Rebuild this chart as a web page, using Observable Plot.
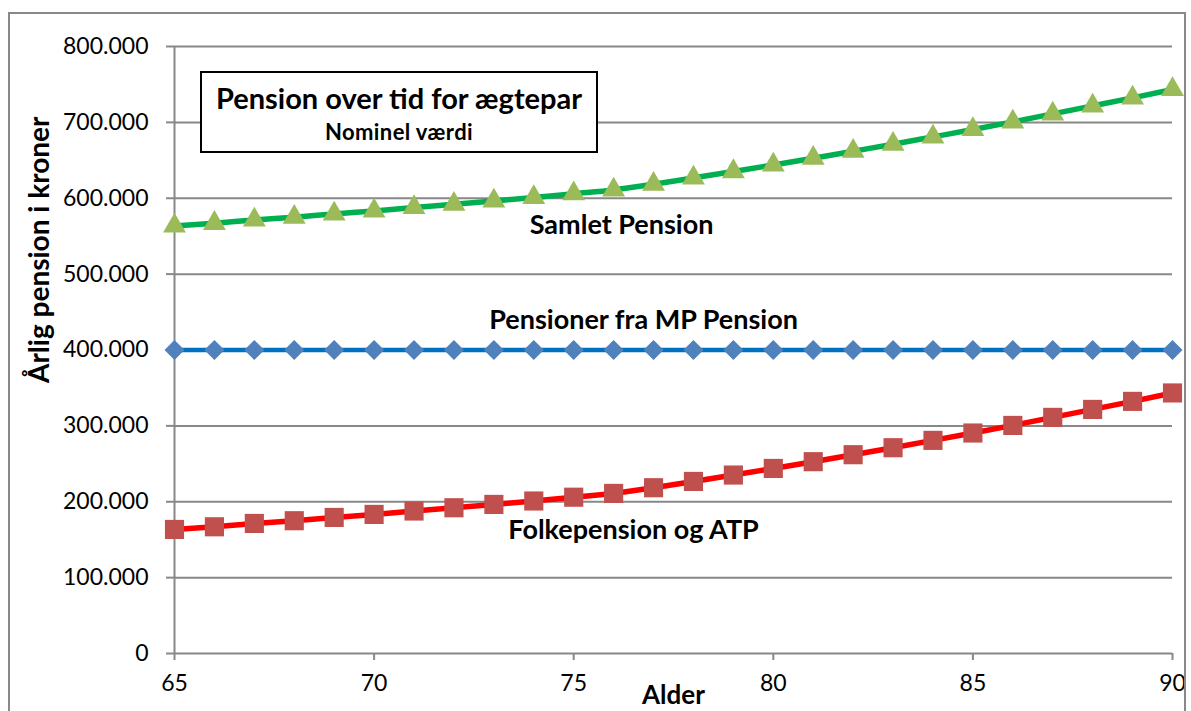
<!DOCTYPE html>
<html>
<head>
<meta charset="utf-8">
<script src="https://cdn.jsdelivr.net/npm/d3@7"></script>
<script src="https://cdn.jsdelivr.net/npm/@observablehq/plot@0.6"></script>
<style>
  html, body { margin: 0; padding: 0; background: white; }
  #wrap { position: relative; width: 1191px; height: 711px; overflow: hidden; }
  #border { position: absolute; left: 8px; top: 12px; width: 1178px; height: 720px; border: 2px solid #888; box-sizing: border-box; pointer-events: none; }
  #titlebox { position: absolute; left: 200px; top: 71px; width: 398px; height: 82px; box-sizing: border-box; border: 2px solid #000; background: white; text-align: center; font-family: Lato, "Open Sans", sans-serif; font-weight: bold; color: #000; }
  #titlebox .t1 { font-size: 29px; line-height: 30px; margin-top: 10px; white-space: nowrap; }
  #titlebox .t2 { font-size: 22px; line-height: 24px; margin-top: 7px; white-space: nowrap; letter-spacing: 0.4px; }
  svg g[aria-label="x-axis tick"] path, svg g[aria-label="y-axis tick"] path { stroke: #888; stroke-width: 2px; }
</style>
</head>
<body>
<div id="wrap">
  <div id="chart"></div>
  <div id="titlebox"><div class="t1">Pension over tid for ægtepar</div><div class="t2">Nominel værdi</div></div>
  <div id="border"></div>
</div>
<script>
// ---- data ----
const ages = [65,66,67,68,69,70,71,72,73,74,75,76,77,78,79,80,81,82,83,84,85,86,87,88,89,90];
const folkepension = [163500,167000,171400,175000,179300,183300,187800,192100,196500,201000,206000,211000,218500,226800,235200,243900,252800,262000,271200,280900,290600,300600,311200,321700,332300,343400];
const mpPension = [400000,400000,400000,400000,400000,400000,400000,400000,400000,400000,400000,400000,400000,400000,400000,400000,400000,400000,400000,400000,400000,400000,400000,400000,400000,400000];
const samletPension = [563500,567000,571400,575000,579300,583300,587800,592100,596500,601000,606000,611000,618500,626800,635200,643900,652800,662000,671200,680900,690600,700600,711200,721700,732300,743400];
const xTicks = [65,70,75,80,85,90];
const yTicks = [0,100000,200000,300000,400000,500000,600000,700000,800000];
const seriesLabels = [
  {text: "Samlet Pension", age: 76.2, value: 564000},
  {text: "Pensioner fra MP Pension", age: 76.75, value: 439000},
  {text: "Folkepension og ATP", age: 76.5, value: 162000}
];
const xTitle = "Alder";
const yTitle = "Årlig pension i kroner";

// ---- build ----
const rows = (vals) => ages.map((a, i) => ({age: a, value: vals[i]}));
const folke = rows(folkepension), mp = rows(mpPension), samlet = rows(samletPension);
const dk = d3.formatLocale({decimal: ",", thousands: ".", grouping: [3], currency: ["", " kr"]});
const fmt = dk.format(",.0f");

const chart = Plot.plot({
  width: 1191,
  height: 711,
  marginLeft: 174,
  marginRight: 19,
  marginTop: 46,
  marginBottom: 58,
  style: {fontFamily: "Lato, 'Open Sans', sans-serif", fontSize: "23px", color: "#000", background: "transparent", overflow: "visible"},
  x: {domain: [65, 90], ticks: xTicks, tickSize: 7, tickPadding: 14, label: null, tickFormat: d => String(d)},
  y: {domain: [0, 800000], ticks: yTicks, tickSize: 8, tickPadding: 18, label: null, tickFormat: fmt},
  marks: [
    Plot.ruleY(yTicks, {stroke: "#888", strokeWidth: 2}),
    Plot.ruleX([65], {stroke: "#888", strokeWidth: 2}),
    Plot.line(samlet, {x: "age", y: "value", stroke: "#00b050", strokeWidth: 5.5, curve: "monotone-x"}),
    Plot.line(mp, {x: "age", y: "value", stroke: "#0070c0", strokeWidth: 4.5}),
    Plot.line(folke, {x: "age", y: "value", stroke: "#ff0000", strokeWidth: 5.5}),
    Plot.dot(samlet, {x: "age", y: "value", symbol: "triangle", r: 8.5, fill: "#9bbb59", stroke: "none"}),
    Plot.dot(mp, {x: "age", y: "value", symbol: "square", r: 8, rotate: 45, fill: "#4f81bd", stroke: "none"}),
    Plot.dot(folke, {x: "age", y: "value", symbol: "square", r: 10.8, fill: "#c0504d", stroke: "none"}),
    Plot.text(seriesLabels, {x: "age", y: "value", text: "text", fontWeight: "bold", fontSize: 27, fill: "#000"}),
    Plot.text([xTitle], {frameAnchor: "bottom", dy: 50, text: d => d, fontWeight: "bold", fontSize: 26, fill: "#000"}),
    Plot.text([yTitle], {frameAnchor: "left", dx: -134, dy: 33, rotate: -90, text: d => d, fontWeight: "bold", fontSize: 28, fill: "#000"})
  ]
});
document.getElementById("chart").appendChild(chart);
</script>
</body>
</html>
